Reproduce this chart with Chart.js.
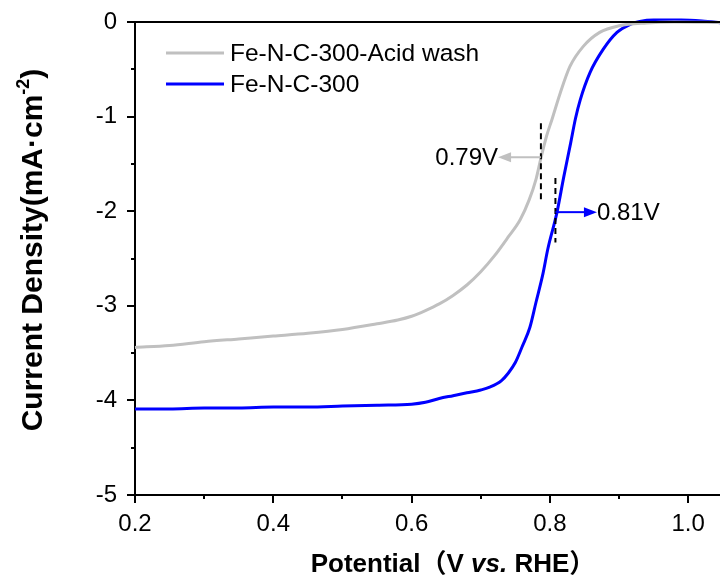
<!DOCTYPE html>
<html>
<head>
<meta charset="utf-8">
<script src="https://cdn.jsdelivr.net/npm/chart.js@4"></script>
<style>
  html, body { margin: 0; padding: 0; background: #fff; }
  #wrap { width: 720px; height: 577px; }
</style>
</head>
<body>
<div id="wrap"><canvas id="lsv" width="720" height="577"></canvas></div>
<script>
// LSV curves
const acidV = [0.20, 0.25, 0.30, 0.35, 0.40, 0.45, 0.50, 0.55, 0.58, 0.60, 0.62, 0.64, 0.66, 0.68, 0.70, 0.72, 0.74, 0.757, 0.77, 0.78, 0.787, 0.795, 0.803, 0.815, 0.829, 0.848, 0.872, 0.90, 0.94, 0.98, 1.05];
const acidJ = [-3.44, -3.42, -3.38, -3.35, -3.32, -3.29, -3.25, -3.19, -3.15, -3.11, -3.05, -2.98, -2.89, -2.78, -2.64, -2.47, -2.27, -2.09, -1.88, -1.66, -1.44, -1.21, -1.03, -0.75, -0.47, -0.26, -0.11, -0.04, -0.01, 0.0, -0.005];
const feV = [0.20, 0.25, 0.30, 0.35, 0.40, 0.45, 0.50, 0.55, 0.60, 0.62, 0.64, 0.66, 0.68, 0.70, 0.713, 0.73, 0.74, 0.75, 0.76, 0.771, 0.78, 0.79, 0.797, 0.81, 0.82, 0.83, 0.837, 0.844, 0.858, 0.877, 0.897, 0.916, 0.93, 0.95, 0.99, 1.02, 1.05];
const feJ = [-4.09, -4.09, -4.08, -4.08, -4.07, -4.07, -4.06, -4.05, -4.04, -4.02, -3.98, -3.95, -3.92, -3.89, -3.86, -3.79, -3.71, -3.60, -3.43, -3.23, -2.96, -2.66, -2.40, -2.02, -1.64, -1.28, -1.02, -0.82, -0.535, -0.29, -0.11, -0.026, 0.005, 0.02, 0.02, 0.01, -0.01];

const seriesNames = ['Fe-N-C-300-Acid wash', 'Fe-N-C-300'];
const seriesColors = ['#c0c0c0', '#0000ff'];

const xMajor = [0.2, 0.4, 0.6, 0.8, 1.0];
const xMinor = [0.3, 0.5, 0.7, 0.9];
const yMajor = [0, -1, -2, -3, -4, -5];
const yMinor = [-0.5, -1.5, -2.5, -3.5, -4.5];

// half-wave potential marks
const halfWaveV = [0.787, 0.808];
const dashFrom = [-1.07, -1.65];
const dashTo = [-1.90, -2.33];
const arrowJ = [-1.43, -2.01];
const arrowTipV = [0.725, 0.868];
const halfWaveText = ['0.79V', '0.81V'];

const FONT = 'Arial, "Liberation Sans", sans-serif';

function pts(xs, ys) { return xs.map((x, i) => ({x: x, y: ys[i]})); }

const decor = {
  id: 'decor',
  afterDraw(chart) {
    const ctx = chart.ctx, xs = chart.scales.x, ys = chart.scales.y, a = chart.chartArea;
    ctx.save();
    ctx.strokeStyle = '#000';
    ctx.lineWidth = 2;
    // top frame line
    ctx.beginPath(); ctx.moveTo(a.left - 1, a.top); ctx.lineTo(a.right, a.top); ctx.stroke();
    // outward ticks
    xMajor.concat(xMinor).forEach(v => {
      const px = Math.round(xs.getPixelForValue(v));
      const len = xMajor.includes(v) ? 8 : 4;
      ctx.beginPath(); ctx.moveTo(px, a.bottom); ctx.lineTo(px, a.bottom + len); ctx.stroke();
    });
    yMajor.concat(yMinor).forEach(v => {
      const py = Math.round(ys.getPixelForValue(v));
      const len = yMajor.includes(v) ? 8 : 4;
      ctx.beginPath(); ctx.moveTo(a.left, py); ctx.lineTo(a.left - len, py); ctx.stroke();
    });

    // half-wave annotations
    ctx.font = '24px ' + FONT;
    ctx.textBaseline = 'middle';
    halfWaveV.forEach((v, i) => {
      const px = xs.getPixelForValue(v);
      ctx.strokeStyle = '#000';
      ctx.lineWidth = 2;
      ctx.setLineDash([6, 4]);
      ctx.beginPath();
      ctx.moveTo(px, ys.getPixelForValue(dashFrom[i]));
      ctx.lineTo(px, ys.getPixelForValue(dashTo[i]));
      ctx.stroke();
      ctx.setLineDash([]);
      const py = ys.getPixelForValue(arrowJ[i]);
      const tip = xs.getPixelForValue(arrowTipV[i]);
      const dir = tip < px ? -1 : 1;
      ctx.strokeStyle = seriesColors[i];
      ctx.fillStyle = seriesColors[i];
      ctx.lineWidth = 2;
      ctx.beginPath(); ctx.moveTo(px, py); ctx.lineTo(tip - dir * 10, py); ctx.stroke();
      ctx.beginPath();
      ctx.moveTo(tip, py);
      ctx.lineTo(tip - dir * 13, py - 5);
      ctx.lineTo(tip - dir * 13, py + 5);
      ctx.closePath(); ctx.fill();
      ctx.fillStyle = '#000';
      ctx.textAlign = dir < 0 ? 'right' : 'left';
      ctx.fillText(halfWaveText[i], tip, py + 1);
    });

    // legend
    chart.data.datasets.forEach((ds, i) => {
      const ly = 53 + i * 31;
      ctx.strokeStyle = ds.borderColor;
      ctx.lineWidth = 3;
      ctx.beginPath(); ctx.moveTo(166, ly); ctx.lineTo(224, ly); ctx.stroke();
      ctx.fillStyle = '#000';
      ctx.textAlign = 'left';
      ctx.textBaseline = 'middle';
      ctx.font = '24.5px ' + FONT;
      ctx.fillText(ds.label, 230, ly + 1);
    });

    // x title: Potential（V vs. RHE）
    const parts = [
      ['Potential', 'bold 26px ' + FONT],
      ['（', 'bold 26px "Noto Sans CJK SC", ' + FONT],
      ['V ', 'bold 26px ' + FONT],
      ['vs.', 'italic bold 26px ' + FONT],
      [' RHE', 'bold 26px ' + FONT],
      ['）', 'bold 26px "Noto Sans CJK SC", ' + FONT]
    ];
    ctx.textBaseline = 'alphabetic';
    ctx.textAlign = 'left';
    let w = 0;
    parts.forEach(p => { ctx.font = p[1]; w += ctx.measureText(p[0]).width; });
    let x0 = 453 - w / 2;
    parts.forEach(p => { ctx.font = p[1]; ctx.fillText(p[0], x0, 572); x0 += ctx.measureText(p[0]).width; });

    // y title: Current Density(mA·cm-2) rotated
    ctx.translate(42, 250);
    ctx.rotate(-Math.PI / 2);
    const yMain = 'Current Density(mA·cm';
    const ySup = '-2';
    const yEnd = ')';
    const fMain = 'bold 30px ' + FONT, fSup = 'bold 18px ' + FONT;
    ctx.font = fMain; const w1 = ctx.measureText(yMain).width, w3 = ctx.measureText(yEnd).width;
    ctx.font = fSup; const w2 = ctx.measureText(ySup).width;
    let sx = -(w1 + w2 + w3) / 2;
    ctx.font = fMain; ctx.fillText(yMain, sx, 0); sx += w1;
    ctx.font = fSup; ctx.fillText(ySup, sx, -13); sx += w2;
    ctx.font = fMain; ctx.fillText(yEnd, sx, 0);
    ctx.restore();
  }
};

new Chart(document.getElementById('lsv'), {
  type: 'line',
  data: {
    datasets: [
      { label: seriesNames[0], data: pts(acidV, acidJ), borderColor: seriesColors[0], borderWidth: 3, pointRadius: 0, cubicInterpolationMode: 'monotone', fill: false, clip: false },
      { label: seriesNames[1], data: pts(feV, feJ), borderColor: seriesColors[1], borderWidth: 3, pointRadius: 0, cubicInterpolationMode: 'monotone', fill: false, clip: false }
    ]
  },
  options: {
    responsive: false,
    animation: false,
    devicePixelRatio: 1,
    layout: { padding: { top: 22, right: 0, left: 0, bottom: 0 } },
    plugins: { legend: { display: false }, tooltip: { enabled: false } },
    scales: {
      x: {
        type: 'linear', min: 0.2, max: 1.046,
        grid: { display: true, drawOnChartArea: false, drawTicks: false },
        border: { display: true, color: '#000', width: 2 },
        ticks: { stepSize: 0.2, includeBounds: false, padding: 15, color: '#000', font: { size: 24, family: FONT }, maxRotation: 0,
          callback: v => v.toFixed(1) },
        afterFit: s => { s.height = 82; s.paddingLeft = 0; s.paddingRight = 0; }
      },
      y: {
        type: 'linear', min: -5, max: 0,
        grid: { display: true, drawOnChartArea: false, drawTicks: false },
        border: { display: true, color: '#000', width: 2 },
        ticks: { stepSize: 1, padding: 18, color: '#000', font: { size: 24, family: FONT },
          callback: v => String(v) },
        afterFit: s => { s.width = 135; s.paddingTop = 0; s.paddingBottom = 0; }
      }
    }
  },
  plugins: [decor]
});
</script>
</body>
</html>
